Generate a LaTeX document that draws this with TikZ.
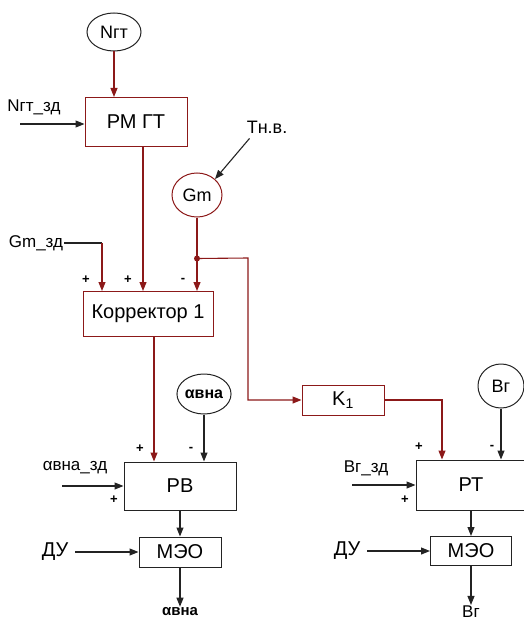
\documentclass[tikz,border=0pt]{standalone}
\usepackage{fontspec}
\setmainfont{Liberation Sans}
\usetikzlibrary{arrows.meta,shapes.geometric}
\definecolor{rosso}{RGB}{140,25,25}
\definecolor{nero}{RGB}{35,35,35}

\begin{document}
\begin{tikzpicture}[x=1pt, y=-1pt, >={Triangle[length=9pt,width=7pt]},
    blocco/.style={draw=nero, line width=1pt, inner sep=0pt, font=\fontsize{20}{22}\selectfont},
    bloccor/.style={blocco, draw=rosso},
    sensore/.style={ellipse, draw=nero, line width=1pt, inner sep=0pt, font=\fontsize{18}{20}\selectfont},
    etich/.style={inner sep=1pt, font=\fontsize{17}{19}\selectfont},
    segno/.style={inner sep=0pt, font=\bfseries\fontsize{13}{13}\selectfont},
    linea/.style={draw=nero, line width=1.1pt},
    linear/.style={draw=rosso, line width=1.1pt}]
    \useasboundingbox (0,0) rectangle (524,623);

    % Ramo sinistro
    \node[sensore, minimum width=54pt, minimum height=38pt] (ngt) at (114,32) {Nгт};
    \node[bloccor, minimum width=102pt, minimum height=49pt] (rmgt) at (136,122) {РМ ГТ};
    \node[etich] (ngtzd) at (34,107) {Nгт\_зд};
    \coordinate (ngtin) at (20,124);
    \draw[linear,->] (ngt) -- (ngt |- rmgt.north);
    \draw[linea,->] (ngtin) -- (ngtin -| rmgt.west);

    % Portata Gm
    \node[sensore, draw=rosso, minimum width=50pt, minimum height=44pt] (gm) at (197,195) {Gm};
    \node[etich, font=\fontsize{18}{20}\selectfont] (tnv) at (267,127) {Tн.в.};
    \draw[linea,->] ([xshift=4pt,yshift=-4pt]tnv.south west) -- (gm.north east);

    % Correttore
    \node[bloccor, minimum width=130pt, minimum height=45pt] (korr) at (148,314) {Корректор 1};
    \node[etich] (gmzd) at (36,243) {Gm\_зд};
    \coordinate (gmzdc) at (102,243);
    \draw[linea] (gmzd) -- (gmzdc);
    \draw[linear,->] (gmzdc) -- (gmzdc |- korr.north);
    \draw[linear,->] ([xshift=7pt]rmgt.south) -- ([xshift=7pt]rmgt.south |- korr.north);
    \draw[linear,->] (gm) -- (gm |- korr.north);

    % Segni
    \foreach \x/\y/\s [count=\i] in {86/280/+, 128/280/+, 183/280/-, 140/449/+, 191/449/-,
        114/500/+, 419/447/+, 492/447/-, 405/500/+}
        \node[segno] (s\i) at (\x,\y) {\s};

    % Regolatore RV
    \node[sensore, font=\bfseries\fontsize{16}{18}\selectfont, minimum width=53pt, minimum height=40pt] (avna) at (204,394) {αвна};
    \node[blocco, minimum width=112pt, minimum height=48pt] (rv) at (180,486) {РВ};
    \node[etich] (avnazd) at (75,468) {αвна\_зд};
    \coordinate (avnain) at (62,486);
    \draw[linear,->] ([xshift=6pt]korr.south) -- ([xshift=6pt]korr.south |- rv.north);
    \draw[linea,->] (avna) -- (avna |- rv.north);
    \draw[linea,->] (avnain) -- (avnain -| rv.west);

    \node[blocco, minimum width=82pt, minimum height=30pt] (meo1) at (180,552) {МЭО};
    \node[etich, font=\fontsize{20}{22}\selectfont] (du1) at (55,552) {ДУ};
    \node[etich, font=\bfseries\fontsize{15}{17}\selectfont] (avnaout) at (180,612) {αвна};
    \draw[linea,->] (rv) -- (meo1);
    \draw[linea,->, shorten <=6pt] (du1) -- (meo1);
    \draw[linea,->] (meo1) -- (avnaout);

    % Ramo destro
    \node[bloccor, minimum width=82pt, minimum height=30pt] (k1) at (343,400) {K\textsubscript{1}};
    \path (gm.south) ++(0,41) coordinate (nodo);
    \coordinate (ang) at (248,258);
    \draw[linear,->] (nodo) -- (ang) |- (k1.west);
    \fill[rosso] (nodo) circle (3pt);

    \node[sensore, minimum width=46pt, minimum height=44pt] (bg) at (501,386) {Bг};
    \node[blocco, minimum width=110pt, minimum height=50pt] (rt) at (471,485) {РТ};
    \node[etich] (bgzd) at (366,468) {Bг\_зд};
    \coordinate (bgin) at (352,485);
    \coordinate (k1ang) at (442,400);
    \draw[linear,->] (k1) -- (k1ang) -- (k1ang |- rt.north);
    \draw[linea,->] (bg) -- (bg |- rt.north);
    \draw[linea,->] (bgin) -- (bgin -| rt.west);

    \node[blocco, minimum width=81pt, minimum height=29pt] (meo2) at (471,551) {МЭО};
    \node[etich, font=\fontsize{20}{22}\selectfont] (du2) at (347,551) {ДУ};
    \node[etich] (bgout) at (471,612) {Bг};
    \draw[linea,->] (rt) -- (meo2);
    \draw[linea,->, shorten <=6pt] (du2) -- (meo2);
    \draw[linea,->] (meo2) -- (bgout);

\end{tikzpicture}
\end{document}
